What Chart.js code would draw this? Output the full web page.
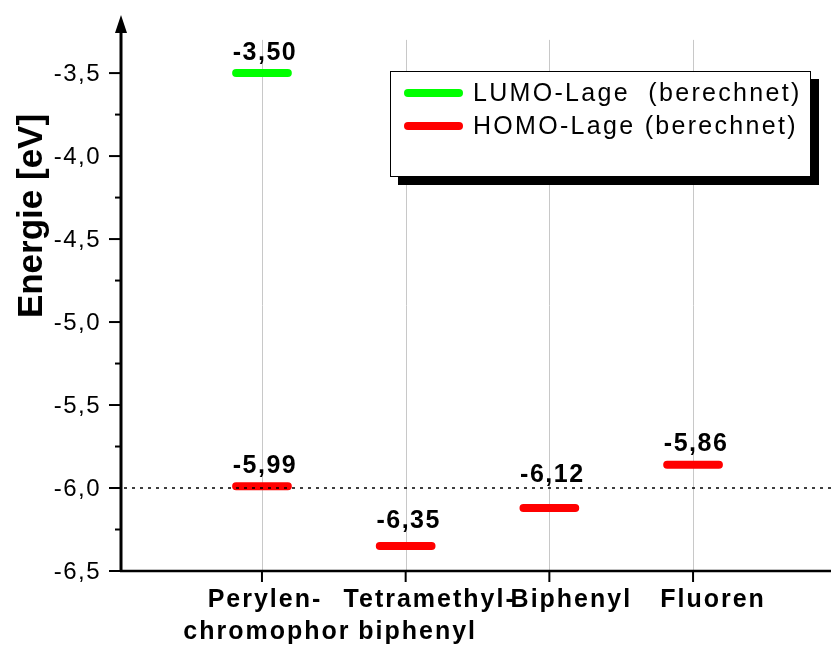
<!DOCTYPE html>
<html>
<head>
<meta charset="utf-8">
<script src="https://cdn.jsdelivr.net/npm/chart.js@4"></script>
<style>
  html, body { margin: 0; padding: 0; background: #fff; }
  #wrap { width: 831px; height: 645px; }
</style>
</head>
<body>
<div id="wrap"><canvas id="energyChart" width="831" height="645"></canvas></div>
<script>
// Kategorien (x-Achse)
const categories = [['Perylen-', 'chromophor'], ['Tetramethyl-', 'biphenyl'], ['Biphenyl'], ['Fluoren']];
// berechnete Lagen in eV (null = kein Wert)
const lumoValues = [-3.50, null, null, null];
const homoValues = [-5.99, -6.35, -6.12, -5.86];
// y-Achse
const yTicks = [-3.5, -4.0, -4.5, -5.0, -5.5, -6.0, -6.5];
const yMinorTicks = [-3.75, -4.25, -4.75, -5.25, -5.75, -6.25];
const refLine = -6.0;
const legendLabels = ['LUMO-Lage  (berechnet)', 'HOMO-Lage (berechnet)'];
const colors = ['#00ff00', '#ff0000'];

const halfWidth = 0.18; // halbe Strichbreite in Kategorien-Einheiten
// Versatz der Beschriftungszeilen nach rechts (px), wie im Original
const labelShift = [[3, 5], [24, 12], [22], [20]];
// Abstand der Wertetexte über dem Strich (px), im Original von Hand gesetzt
const valueLift = [[13, 0, 0, 0], [13, 18, 26, 14]];

function fmt(v, d) {
    return v.toFixed(d).replace('.', ',');
}

// aus jedem Wert einen kurzen waagrechten Strich machen
function segments(values) {
    const pts = [];
    values.forEach((v, i) => {
        if (v === null) return;
        pts.push({ x: i - halfWidth, y: v });
        pts.push({ x: i + halfWidth, y: v });
        pts.push({ x: i, y: null });
    });
    return pts;
}

const decor = {
    id: 'decor',
    beforeDatasetsDraw(chart) {
        const { ctx, scales: { x, y } } = chart;
        ctx.save();
        // senkrechte Gitterlinien
        ctx.strokeStyle = '#c8c8c8';
        ctx.lineWidth = 1;
        categories.forEach((c, i) => {
            const px = Math.round(x.getPixelForValue(i)) + 0.5;
            ctx.beginPath();
            ctx.moveTo(px, y.getPixelForValue(-3.30));
            ctx.lineTo(px, y.getPixelForValue(-6.5));
            ctx.stroke();
        });
        ctx.restore();
    },
    afterDatasetsDraw(chart) {
        const { ctx, chartArea: area, scales: { x, y } } = chart;
        ctx.save();
        ctx.fillStyle = '#000';
        ctx.strokeStyle = '#000';

        // gepunktete Linie bei -6,0
        const yRef = y.getPixelForValue(refLine);
        ctx.setLineDash([3, 5]);
        ctx.lineWidth = 1.5;
        ctx.beginPath();
        ctx.moveTo(area.left + 3, yRef);
        ctx.lineTo(area.right, yRef);
        ctx.stroke();
        ctx.setLineDash([]);

        // Werte über den Strichen
        ctx.font = 'bold 25px "Liberation Sans", Arial, sans-serif';
        ctx.letterSpacing = '1.5px';
        ctx.textAlign = 'center';
        ctx.textBaseline = 'alphabetic';
        [lumoValues, homoValues].forEach((vals, s) => {
            vals.forEach((v, i) => {
                if (v === null) return;
                ctx.fillText(fmt(v, 2), x.getPixelForValue(i) + 3, y.getPixelForValue(v) - valueLift[s][i]);
            });
        });

        // y-Achse mit Pfeil
        const ax = area.left;
        const bottom = area.bottom;
        ctx.lineWidth = 3;
        ctx.beginPath();
        ctx.moveTo(ax, bottom + 1);
        ctx.lineTo(ax, area.top + 12);
        ctx.stroke();
        ctx.beginPath();
        ctx.moveTo(ax, area.top);
        ctx.lineTo(ax - 6, area.top + 18);
        ctx.lineTo(ax + 6, area.top + 18);
        ctx.closePath();
        ctx.fill();

        // x-Achse
        ctx.lineWidth = 2.5;
        ctx.beginPath();
        ctx.moveTo(ax - 1, bottom);
        ctx.lineTo(area.right, bottom);
        ctx.stroke();

        // y-Ticks
        ctx.lineWidth = 2;
        yTicks.forEach(t => {
            const py = y.getPixelForValue(t);
            ctx.beginPath();
            ctx.moveTo(ax - 12, py);
            ctx.lineTo(ax, py);
            ctx.stroke();
        });
        yMinorTicks.forEach(t => {
            const py = y.getPixelForValue(t);
            ctx.beginPath();
            ctx.moveTo(ax - 6, py);
            ctx.lineTo(ax, py);
            ctx.stroke();
        });
        ctx.font = '24px "Liberation Sans", Arial, sans-serif';
        ctx.letterSpacing = '1.5px';
        ctx.textAlign = 'right';
        ctx.textBaseline = 'middle';
        yTicks.forEach(t => {
            ctx.fillText(fmt(t, 1), ax - 20, y.getPixelForValue(t) + 1);
        });

        // x-Ticks und Beschriftung
        ctx.font = 'bold 25px "Liberation Sans", Arial, sans-serif';
        ctx.letterSpacing = '2px';
        ctx.textAlign = 'center';
        ctx.textBaseline = 'alphabetic';
        categories.forEach((lines, i) => {
            const px = x.getPixelForValue(i);
            ctx.beginPath();
            ctx.moveTo(px, bottom);
            ctx.lineTo(px, bottom + 11);
            ctx.stroke();
            lines.forEach((ln, k) => {
                ctx.fillText(ln, px + labelShift[i][k], bottom + 36 + k * 32);
            });
        });

        // Achsentitel
        ctx.save();
        ctx.translate(42, 216);
        ctx.rotate(-Math.PI / 2);
        ctx.font = 'bold 35px "Liberation Sans", Arial, sans-serif';
        ctx.letterSpacing = '0px';
        ctx.textAlign = 'center';
        ctx.fillText('Energie [eV]', 0, 0);
        ctx.restore();

        // Legende mit Schatten
        const lx = 390, ly = 71, lw = 420, lh = 105;
        ctx.fillStyle = '#000';
        ctx.fillRect(lx + 8, ly + 8, lw + 1, lh + 1);
        ctx.fillStyle = '#fff';
        ctx.fillRect(lx, ly, lw, lh);
        ctx.lineWidth = 1;
        ctx.strokeStyle = '#000';
        ctx.strokeRect(lx + 0.5, ly + 0.5, lw, lh);
        ctx.font = '25px "Liberation Sans", Arial, sans-serif';
        ctx.letterSpacing = '2.3px';
        ctx.textAlign = 'left';
        ctx.textBaseline = 'middle';
        legendLabels.forEach((lab, k) => {
            const yy = ly + 22 + k * 33;
            ctx.strokeStyle = colors[k];
            ctx.lineWidth = 8;
            ctx.lineCap = 'round';
            ctx.beginPath();
            ctx.moveTo(lx + 18, yy);
            ctx.lineTo(lx + 69, yy);
            ctx.stroke();
            ctx.fillStyle = '#000';
            ctx.fillText(lab, lx + 83, yy + 1);
        });

        ctx.restore();
    }
};

const energyChart = new Chart(document.getElementById('energyChart').getContext('2d'), {
    type: 'line',
    data: {
        datasets: [{
            label: legendLabels[0],
            data: segments(lumoValues),
            borderColor: colors[0],
            borderWidth: 8,
            borderCapStyle: 'round',
            pointRadius: 0,
            spanGaps: false
        }, {
            label: legendLabels[1],
            data: segments(homoValues),
            borderColor: colors[1],
            borderWidth: 8,
            borderCapStyle: 'round',
            pointRadius: 0,
            spanGaps: false
        }]
    },
    options: {
        responsive: false,
        animation: false,
        devicePixelRatio: 1,
        layout: { padding: { left: 121, top: 15, right: 0, bottom: 74 } },
        scales: {
            x: { type: 'linear', min: -0.981, max: 3.96, display: false },
            y: { type: 'linear', min: -6.5, max: -3.15, display: false }
        },
        plugins: {
            legend: { display: false },
            tooltip: { enabled: false }
        }
    },
    plugins: [decor]
});
</script>
</body>
</html>
